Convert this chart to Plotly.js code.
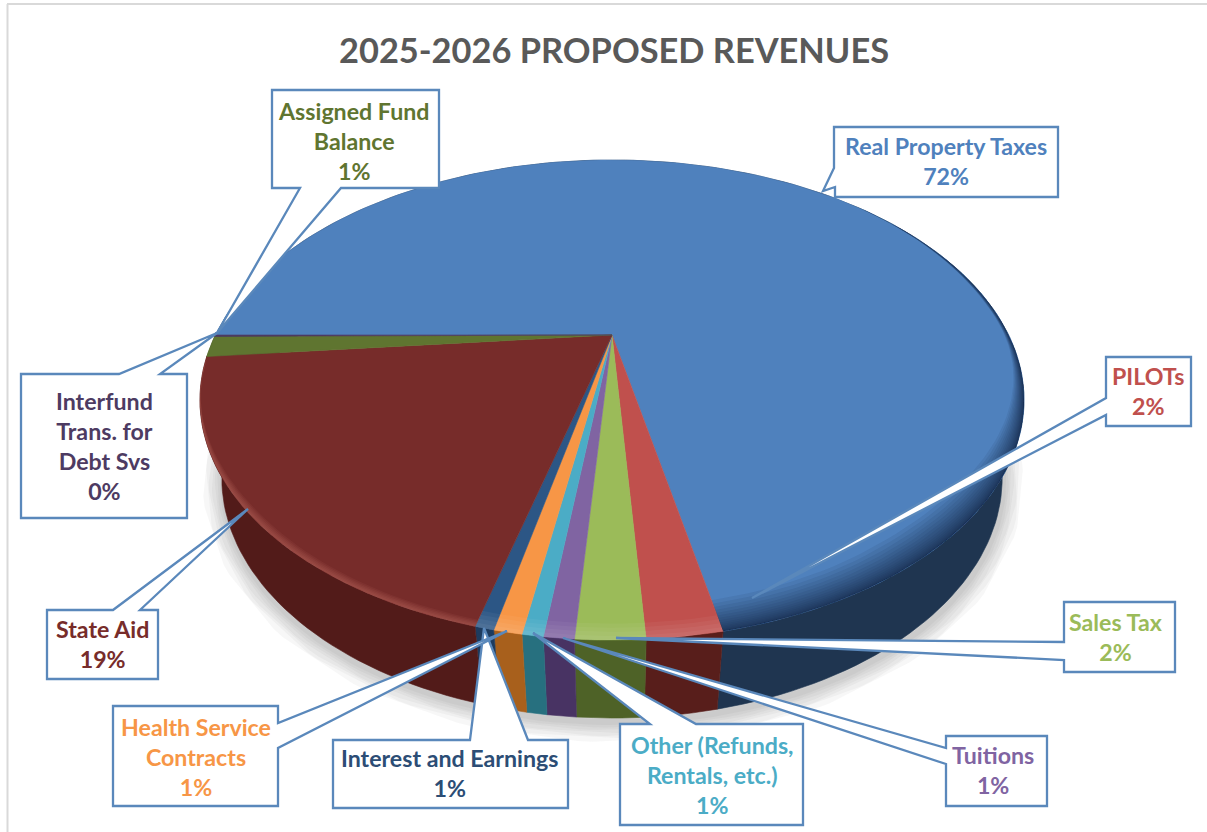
<!DOCTYPE html>
<html><head><meta charset="utf-8">
<script src="https://cdn.plot.ly/plotly-3.0.1.min.js"></script>
<style>html,body{margin:0;padding:0;background:#fff}#c{width:1207px;height:832px}</style></head>
<body><div id="c"></div>
<script>
const categories=["Real Property Taxes","PILOTs","Sales Tax","Tuitions","Other (Refunds,<br>Rentals, etc.)","Health Service<br>Contracts","Interest and Earnings","State Aid","Assigned Fund<br>Balance","Interfund<br>Trans. for<br>Debt Svs"];
const shares=[71.7,2.3,2.1,0.92,0.64,0.86,0.58,19.4,1.4,0.1];
const topColors=["#4f81bd","#c0504d","#9bbb59","#8064a2","#4bacc6","#f79646","#2c5685","#772c2a","#5f7530","#4d3b62"];
const sideColors=["#1f3550","#581e1b","#4e6227","#483363","#27707f","#a8601c","#1d3b5e","#521b19","#3f4f20","#33273f"];
const textColors=["#4f81bd","#c0504d","#9bbb59","#8064a2","#4bacc6","#f79646","#2c4d75","#772c2a","#5f7530","#4d3b62"];
const labelCentres=[[946,161],[1148,391],[1116,637],[993,770],[712,775],[196,757],[450,773],[102,644],[354,141],[104,446]];
const callouts=[
 [[834,127],[1058,127],[1058,197],[835,197],[835,187],[823,191],[834,168]],
 [[1106,357],[1191,357],[1191,426],[1106,426],[1106,415],[752,598],[1106,398]],
 [[1064,602],[1175,602],[1175,672],[1064,672],[1064,660],[616,638],[1064,642]],
 [[946,736],[1047,736],[1047,806],[946,806],[946,764],[563,638],[946,748]],
 [[620,724],[650,724],[533,633],[696,724],[803,724],[803,825],[620,825]],
 [[333,740],[470,740],[484,628],[528,740],[568,740],[568,808],[333,808]],
 [[113,706],[278,706],[278,723],[507,631],[278,748],[278,806],[113,806]],
 [[47,610],[113,610],[248,509],[140,610],[158,610],[158,679],[47,679]],
 [[272,90],[439,90],[439,188],[341,188],[217,333],[300,188],[272,188]],
 [[21,374],[119,374],[217,333],[160,374],[187,374],[187,518],[21,518]]
];
const calloutOrder=[0,1,2,3,4,5,6,7,8,9];
const FONT="Lato, Carlito, 'Open Sans', sans-serif";

// perspective projection of the pie plane onto the page
const cx=612,cy=335,A=222.4,B=396.6,C=0.271,DEPTH=78,SHRINK=0.947,START=270;
function proj(deg,r){const t=deg*Math.PI/180,u=r*Math.sin(t),v=r*Math.cos(t),w=1+C*v;
  return [cx+B*u/w,cy-A*v/w];}
function drop(p){return [cx+(p[0]-cx)*SHRINK,p[1]+DEPTH];}
const total=shares.reduce((a,b)=>a+b,0);
let acc=START;const spans=shares.map(s=>{const a=acc;acc+=s/total*360;return [a,acc];});
function arc(a,b,r){const n=Math.max(2,Math.ceil(Math.abs(b-a)/1.5)),o=[];
  for(let i=0;i<=n;i++)o.push(proj(a+(b-a)*i/n,typeof r==='function'?r(a+(b-a)*i/n):r));return o;}
function poly(pts,fill,extra){return Object.assign({type:'scatter',mode:'lines',x:pts.map(p=>p[0]),y:pts.map(p=>p[1]),
  fill:'toself',fillcolor:fill,line:{color:fill,width:0.6},hoverinfo:'skip',showlegend:false},extra||{});}
function stroke(pts,color,w){return {type:'scatter',mode:'lines',x:pts.map(p=>p[0]),y:pts.map(p=>p[1]),
  line:{color:color,width:w},hoverinfo:'skip',showlegend:false};}
const traces=[];
// soft shadow beneath the lower rim
const under=arc(70,290,1).map(drop).map(p=>[p[0]+1,p[1]+4]);
[40,34,28,22,16,11,6].forEach(w=>traces.push(stroke(under,'rgba(60,60,60,0.045)',w)));
// side walls
spans.forEach((s,i)=>{const top=arc(s[0],s[1],1);const bot=top.map(drop).reverse();
  traces.push(poly(top.concat(bot,[top[0]]),sideColors[i]));});
// top faces
spans.forEach((s,i)=>{const pts=[[cx,cy]].concat(arc(s[0],s[1],1),[[cx,cy]]);
  traces.push(poly(pts,topColors[i]));});
// rim bevel: bands between the rim and an inner radius that widens toward the viewer
function smooth(a,b,x){const t=Math.min(1,Math.max(0,(x-a)/(b-a)));return t*t*(3-2*t);}
const blue=spans[0];
function band(a,b,inner,fill){const o=arc(a,b,1),ins=arc(a,b,inner).reverse();
  return poly(o.concat(ins,[o[0]]),fill,{line:{width:0,color:fill}});}
for(let k=1;k<=16;k++){const w=k/16;
  traces.push(band(405,blue[1],d=>1-(0.009*w*smooth(405,440,d)+0.07*w*w*smooth(445,505,d)),'rgba(14,30,55,0.075)'));}
for(let k=1;k<=5;k++){const w=k/5;
  traces.push(band(spans[7][0],spans[7][1],d=>1-0.016*w*smooth(spans[7][1]-5,spans[7][1]-40,d)-0.001,'rgba(230,140,130,0.07)'));}
spans.slice(1,7).forEach(s=>{for(let k=1;k<=4;k++){traces.push(band(s[0],s[1],1-0.01*k,'rgba(255,255,255,0.045)'));}});

const shapes=[
 {type:'line',xref:'paper',yref:'paper',x0:7/1207,x1:1,y0:1-4/832,y1:1-4/832,line:{color:'#d9d9d9',width:2},layer:'below'},
 {type:'line',xref:'paper',yref:'paper',x0:7.5/1207,x1:7.5/1207,y0:0,y1:1-4/832,line:{color:'#d9d9d9',width:2},layer:'below'}
];
calloutOrder.forEach(i=>{const p=callouts[i];
  shapes.push({type:'path',xref:'x',yref:'y',layer:'above',fillcolor:'#ffffff',
   line:{color:'#5a88bb',width:2.3},path:'M'+p.map(q=>q[0]+','+q[1]).join('L')+'Z'});});
const annotations=categories.map((c,i)=>({xref:'x',yref:'y',x:labelCentres[i][0],y:labelCentres[i][1],
  text:c+'<br>'+Math.round(shares[i])+'%',showarrow:false,align:'center',xanchor:'center',yanchor:'middle',
  font:{family:FONT,size:23.2,color:textColors[i],weight:700}}));
annotations.push({xref:'x',yref:'y',x:614,y:49,text:'2025-2026 PROPOSED REVENUES',showarrow:false,xanchor:'center',yanchor:'middle',
  font:{family:FONT,size:34.4,color:'#595959',weight:700}});
Plotly.newPlot('c',traces,{width:1207,height:832,margin:{l:0,r:0,t:0,b:0},paper_bgcolor:'#fff',plot_bgcolor:'#fff',
  xaxis:{range:[0,1207],visible:false,fixedrange:true},yaxis:{range:[832,0],visible:false,fixedrange:true},
  showlegend:false,shapes:shapes,annotations:annotations},{displayModeBar:false,staticPlot:true});
</script></body></html>
